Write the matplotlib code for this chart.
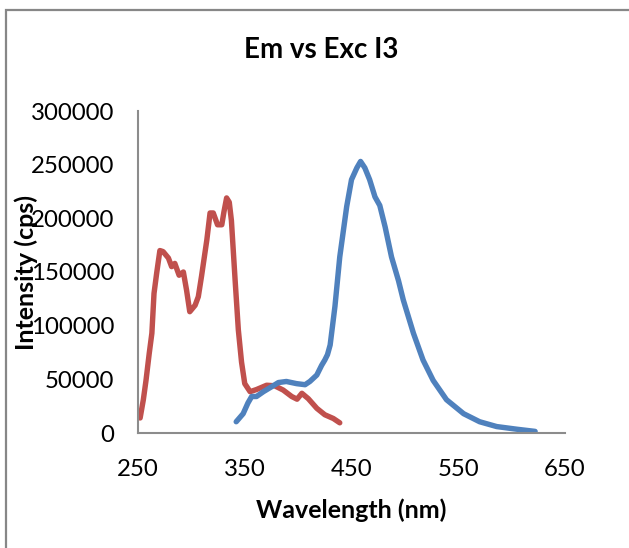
import matplotlib
matplotlib.use('Agg')
import matplotlib.pyplot as plt
from matplotlib.patches import Rectangle

plt.rcParams['font.family'] = ['Lato', 'DejaVu Sans']

# Excitation spectrum (red)
exc_nm = [252, 255, 257.5, 260.5, 263, 265, 267.5, 270.5, 273.5, 278.5, 281.5,
          284.5, 288.5, 292.5, 295.5, 298.5, 303.5, 306.5, 309.5, 314.5, 317.5,
          320.5, 324.5, 328.5, 330.5, 333, 335.5, 337.5, 341, 344, 347, 350,
          355, 361, 370.5, 378, 386, 394, 399, 403.5, 409.5, 417.5, 425, 433, 439]
exc_cps = [14000, 31000, 49000, 74000, 93000, 130000, 149000, 170000, 169000,
           163000, 155000, 158000, 147000, 150000, 133000, 113000, 119000,
           127000, 146000, 180000, 205000, 205000, 194000, 194000, 206000,
           219000, 215000, 198000, 142000, 96000, 66000, 46000, 38500, 40500,
           44500, 44000, 40000, 34000, 31500, 37000, 32000, 23000, 17000,
           13500, 9500]

# Emission spectrum (blue)
em_nm = [342, 348.5, 353, 356.5, 361, 367.5, 375, 381.5, 389, 398.5, 406.5,
         411, 417.5, 422, 425, 427.5, 430, 434.5, 439, 445.5, 450, 455, 458.5,
         462.5, 467, 472, 476.5, 481.5, 487.5, 494, 498.5, 508, 517, 526.5,
         539, 555, 570, 586, 605, 622]
em_cps = [10500, 18000, 28000, 34000, 34000, 38500, 43000, 47000, 48000,
          46000, 45000, 48000, 54000, 63000, 68000, 73000, 82000, 118000,
          164000, 211000, 236000, 247000, 253000, 247000, 236000, 220000,
          212000, 192000, 164000, 142000, 124000, 93000, 68000, 49000, 31000,
          18000, 10500, 6000, 3500, 1500]

x_ticks = [250, 350, 450, 550, 650]
y_ticks = [0, 50000, 100000, 150000, 200000, 250000, 300000]

W, H = 629, 548
fig = plt.figure(figsize=(W / 100, H / 100), dpi=100)
ax = fig.add_axes([138 / W, 1 - 433 / H, (565 - 138) / W, (433 - 111) / H])

# chart frame (only left and top visible)
fig.patches.append(Rectangle((6 / W, -0.1), 1.2, 1.1 - 10 / H,
                             transform=fig.transFigure, fill=False,
                             edgecolor='#878787', linewidth=1.6))

ax.plot(exc_nm, exc_cps, color='#C0504D', linewidth=3.9,
        solid_capstyle='round', solid_joinstyle='round')
ax.plot(em_nm, em_cps, color='#4F81BD', linewidth=3.9,
        solid_capstyle='round', solid_joinstyle='round')

ax.set_xlim(250, 650)
ax.set_ylim(0, 300000)
ax.set_xticks(x_ticks)
ax.set_yticks(y_ticks)
ax.set_xticklabels([str(t) for t in x_ticks])
ax.set_yticklabels([str(t) for t in y_ticks])

for s in ['top', 'right']:
    ax.spines[s].set_visible(False)
for s in ['left', 'bottom']:
    ax.spines[s].set_color('#8c8c8c')
    ax.spines[s].set_linewidth(1.5)

ax.tick_params(axis='both', length=0, labelsize=17.3, colors='black')
ax.tick_params(axis='x', pad=19)
ax.tick_params(axis='y', pad=17)

ax.set_xlabel('Wavelength (nm)', fontsize=18, fontweight='bold')
ax.xaxis.set_label_coords(0.5, -0.239)
ax.xaxis.label.set_va('center')
ax.set_ylabel('Intensity (cps)', fontsize=18, fontweight='bold')
ax.yaxis.set_label_coords(-0.262, 0.5)
ax.yaxis.label.set_va('center')

fig.text(321 / W, 1 - 50.5 / H, 'Em vs Exc I3', fontsize=20,
         fontweight='bold', ha='center', va='center')

fig.savefig('out.png', dpi=100)
